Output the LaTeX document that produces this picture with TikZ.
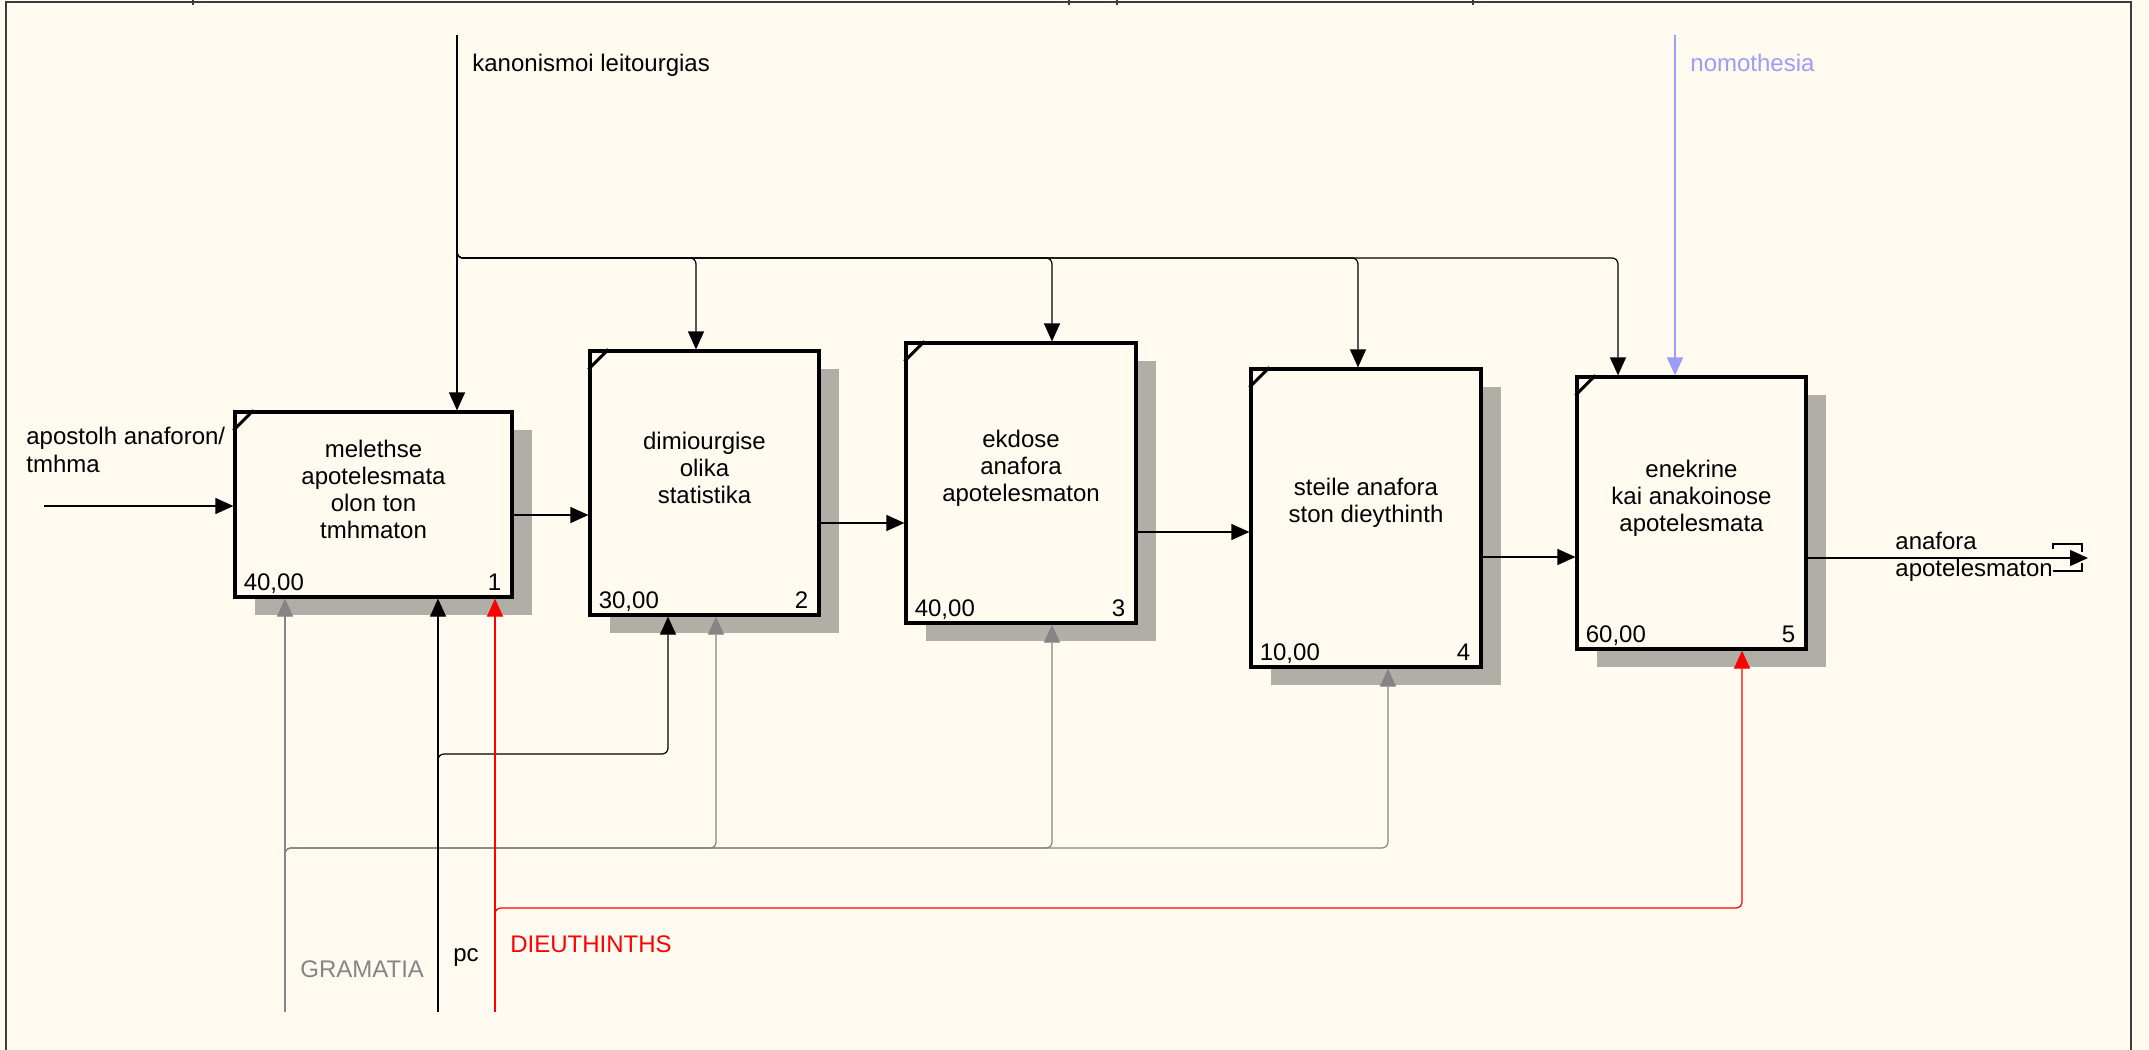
\documentclass[tikz,border=0pt]{standalone}
\usepackage{fontspec}
\setmainfont{Liberation Sans}
\usepackage{xcolor}
\usepackage{tikz}
\usetikzlibrary{arrows.meta,shadows}
\definecolor{pg}{HTML}{FFFBF0}
\definecolor{fr}{HTML}{3C3C3C}
\definecolor{gm}{HTML}{858585}
\definecolor{dr}{HTML}{FF0000}
\definecolor{nm}{HTML}{9C9CFF}
\definecolor{sd}{HTML}{B0AEA6}

\begin{document}
\begin{tikzpicture}[x=0.5pt,y=-0.5pt,
    font=\fontsize{12}{13.6}\selectfont,
    act/.style={draw,line width=1.6pt,fill=pg,inner sep=0pt,
      drop shadow={shadow xshift=10pt,shadow yshift=-9pt,fill=sd,opacity=1}},
    txt/.style={align=center,inner sep=0pt},
    cost/.style={inner sep=0pt,anchor=base west},
    num/.style={inner sep=0pt,anchor=base east},
    lbl/.style={inner sep=0pt,anchor=base west},
    flow/.style={line width=0.6pt,rounded corners=3pt,-{Triangle[length=9pt,width=8pt]}}]
  \useasboundingbox (0,0) rectangle (2149,1050);
  \fill[pg] (0,0) rectangle (2149,1050);
  % frame
  \draw[fr,line width=1.2pt] (6,1050) -- (6,2) -- (2131,2) -- (2131,1050);
  \draw[fr,line width=1pt] (193,0) -- (193,5) (1069,0) -- (1069,5)
    (1117,0) -- (1117,5) (1473,0) -- (1473,5);

  % activities
  \node[act,minimum width=138.5pt,minimum height=92.5pt] (b1) at (373.5,504.5) {};
  \node[act,minimum width=114.5pt,minimum height=132pt] (b2) at (704.5,483) {};
  \node[act,minimum width=115pt,minimum height=140pt] (b3) at (1021,483) {};
  \node[act,minimum width=115pt,minimum height=149pt] (b4) at (1366,518) {};
  \node[act,minimum width=114.5pt,minimum height=136pt] (b5) at (1691.5,513) {};

  \node[txt] (t1) at ([yshift=7.5pt]b1.center) {melethse\\apotelesmata\\olon ton\\tmhmaton};
  \node[txt] (t2) at ([yshift=7.5pt]b2.center) {dimiourgise\\olika\\statistika};
  \node[txt] (t3) at ([yshift=7.5pt]b3.center) {ekdose\\anafora\\apotelesmaton};
  \node[txt] (t4) at ([yshift=7.5pt]b4.center) {steile anafora\\ston dieythinth};
  \node[txt] (t5) at ([yshift=7.5pt]b5.center) {enekrine\\kai anakoinose\\apotelesmata};

  \node[cost] (c1) at ([xshift=5pt,yshift=4pt]b1.south west) {40,00};
  \node[num] (n1) at ([xshift=-6pt,yshift=4pt]b1.south east) {1};
  \node[cost] (c2) at ([xshift=5pt,yshift=4pt]b2.south west) {30,00};
  \node[num] (n2) at ([xshift=-6pt,yshift=4pt]b2.south east) {2};
  \node[cost] (c3) at ([xshift=5pt,yshift=4pt]b3.south west) {40,00};
  \node[num] (n3) at ([xshift=-6pt,yshift=4pt]b3.south east) {3};
  \node[cost] (c4) at ([xshift=5pt,yshift=4pt]b4.south west) {10,00};
  \node[num] (n4) at ([xshift=-6pt,yshift=4pt]b4.south east) {4};
  \node[cost] (c5) at ([xshift=5pt,yshift=4pt]b5.south west) {60,00};
  \node[num] (n5) at ([xshift=-6pt,yshift=4pt]b5.south east) {5};

  \draw[line width=1.5pt] ([yshift=-10pt]b1.north west) -- ([xshift=10pt]b1.north west)
    ([yshift=-10pt]b2.north west) -- ([xshift=10pt]b2.north west)
    ([yshift=-10pt]b3.north west) -- ([xshift=10pt]b3.north west)
    ([yshift=-10pt]b4.north west) -- ([xshift=10pt]b4.north west)
    ([yshift=-10pt]b5.north west) -- ([xshift=10pt]b5.north west);

  % inputs and outputs
  \coordinate (in) at (44,506);
  \draw[flow] (in) -- (in -| b1.west);
  \node[inner sep=0pt,anchor=west,align=left] (inl) at (26,450) {apostolh anaforon/\\tmhma};
  \draw[flow] (b1.east |- 0,515) -- (b2.west |- 0,515);
  \draw[flow] (b2.east |- 0,523) -- (b3.west |- 0,523);
  \draw[flow] (b3.east |- 0,532) -- (b4.west |- 0,532);
  \draw[flow] (b4.east |- 0,557) -- (b5.west |- 0,557);
  \coordinate (out) at (2088,558);
  \draw[flow] (b5.east |- out) -- (out);
  \draw[line width=0.6pt] (2053,549) |- (2082,544) -- (2082,552)
    (2053,571) -- (2082,571) -- (2082,563);
  \node[inner sep=0pt,anchor=west,align=left] (outl) at (1895,557) {anafora\\apotelesmaton};

  % controls
  \coordinate (kan) at (457,35);
  \coordinate (kbr) at (457,248);
  \coordinate (k2) at (696,258);
  \coordinate (k3) at (1052,258);
  \coordinate (k4) at (1358,258);
  \coordinate (k5) at (1618,258);
  \draw[flow] (kan) -- (kan |- b1.north);
  \draw[flow] (kbr) |- (k2) -- (k2 |- b2.north);
  \draw[flow] (kbr) |- (k3) -- (k3 |- b3.north);
  \draw[flow] (kbr) |- (k4) -- (k4 |- b4.north);
  \draw[flow] (kbr) |- (k5) -- (k5 |- b5.north);
  \node[lbl] (kanl) at (472,71) {kanonismoi leitourgias};

  \coordinate (nom) at (1675,35);
  \draw[flow,nm] (nom) -- (nom |- b5.north);
  \node[lbl,text=nm] (noml) at (1690,71) {nomothesia};

  % mechanisms
  \coordinate (gr) at (285,1012);
  \coordinate (gbr) at (285,858);
  \coordinate (g2) at (716,848);
  \coordinate (g3) at (1052,848);
  \coordinate (g4) at (1388,848);
  \draw[flow,gm] (gr) -- (gr |- b1.south);
  \draw[flow,gm] (gbr) |- (g2) -- (g2 |- b2.south);
  \draw[flow,gm] (gbr) |- (g3) -- (g3 |- b3.south);
  \draw[flow,gm] (gbr) |- (g4) -- (g4 |- b4.south);
  \node[lbl,text=gm] (grl) at (300,977) {GRAMATIA};

  \coordinate (pc) at (438,1012);
  \coordinate (pbr) at (438,764);
  \coordinate (p2) at (668,754);
  \draw[flow] (pc) -- (pc |- b1.south);
  \draw[flow] (pbr) |- (p2) -- (p2 |- b2.south);
  \node[lbl] (pcl) at (453,961) {pc};

  \coordinate (dt) at (495,1012);
  \coordinate (dbr) at (495,918);
  \coordinate (d5) at (1742,908);
  \draw[flow,dr] (dt) -- (dt |- b1.south);
  \draw[flow,dr] (dbr) |- (d5) -- (d5 |- b5.south);
  \node[lbl,text=dr] (dtl) at (510,952) {DIEUTHINTHS};
\end{tikzpicture}
\end{document}
